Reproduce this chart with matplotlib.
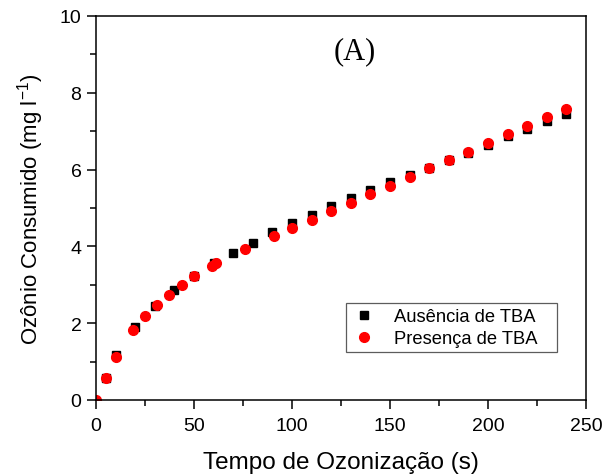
"""Ozone consumed vs ozonation time, with and without TBA"""

import matplotlib.pyplot as plt
from matplotlib.ticker import MultipleLocator

plt.rcParams['font.family'] = ['Liberation Sans', 'DejaVu Sans']

# Ausência de TBA
t_sem = [5, 10, 20, 30, 40, 50, 60, 70, 80, 90, 100, 110, 120, 130, 140,
         150, 160, 170, 180, 190, 200, 210, 220, 230, 240]
o3_sem = [0.57, 1.17, 1.89, 2.44, 2.87, 3.22, 3.56, 3.83, 4.10, 4.37, 4.60,
          4.82, 5.04, 5.27, 5.48, 5.67, 5.86, 6.04, 6.25, 6.42, 6.65, 6.87,
          7.06, 7.26, 7.44]

# Presença de TBA
t_com = [0, 5, 10, 19, 25, 31, 37, 44, 50, 59, 61, 76, 91, 100, 110, 120,
         130, 140, 150, 160, 170, 180, 190, 200, 210, 220, 230, 240]
o3_com = [0.0, 0.57, 1.12, 1.82, 2.18, 2.48, 2.74, 3.00, 3.22, 3.50, 3.56,
          3.93, 4.27, 4.47, 4.70, 4.91, 5.14, 5.36, 5.58, 5.80, 6.03, 6.25,
          6.46, 6.69, 6.92, 7.14, 7.36, 7.58]

fig = plt.figure(figsize=(6.05, 4.77), dpi=100)
ax = fig.add_axes([96 / 605, 76 / 477, 490 / 605, 384 / 477])

ax.plot(t_sem, o3_sem, 's', color='black', markersize=5.8,
        label='Ausência de TBA')
ax.plot(t_com, o3_com, 'o', color='red', markersize=7,
        label='Presença de TBA')

ax.set_xlim(0, 250)
ax.set_ylim(0, 10)
ax.xaxis.set_major_locator(MultipleLocator(50))
ax.xaxis.set_minor_locator(MultipleLocator(25))
ax.yaxis.set_major_locator(MultipleLocator(2))
ax.yaxis.set_minor_locator(MultipleLocator(1))
ax.tick_params(which='both', direction='out', top=False, right=False,
               width=1.1, labelsize=14)
ax.tick_params(which='major', length=6.5, pad=4)
ax.tick_params(which='minor', length=4)
ax.tick_params(axis='x', which='major', pad=6)
for sp in ax.spines.values():
    sp.set_linewidth(1.1)

ax.set_xlabel('Tempo de Ozonização (s)', fontsize=17.5, labelpad=12)
ax.set_ylabel('Ozônio Consumido (mg l$^{\\mathregular{-1}}$)', fontsize=16,
              labelpad=10)

ax.text(132, 9.1, '(A)', family=['Liberation Serif', 'DejaVu Serif'],
        fontsize=22, ha='center', va='center')

leg = ax.legend(loc='lower left', bbox_to_anchor=(0.51, 0.125, 0.43, 0.122),
                mode='expand', borderaxespad=0, fontsize=13.2, frameon=True,
                fancybox=False, edgecolor='#333333', borderpad=0.25,
                handletextpad=0.9, labelspacing=0.3, handlelength=1.5)
leg.get_frame().set_linewidth(0.9)

fig.savefig('out.png', dpi=100)
